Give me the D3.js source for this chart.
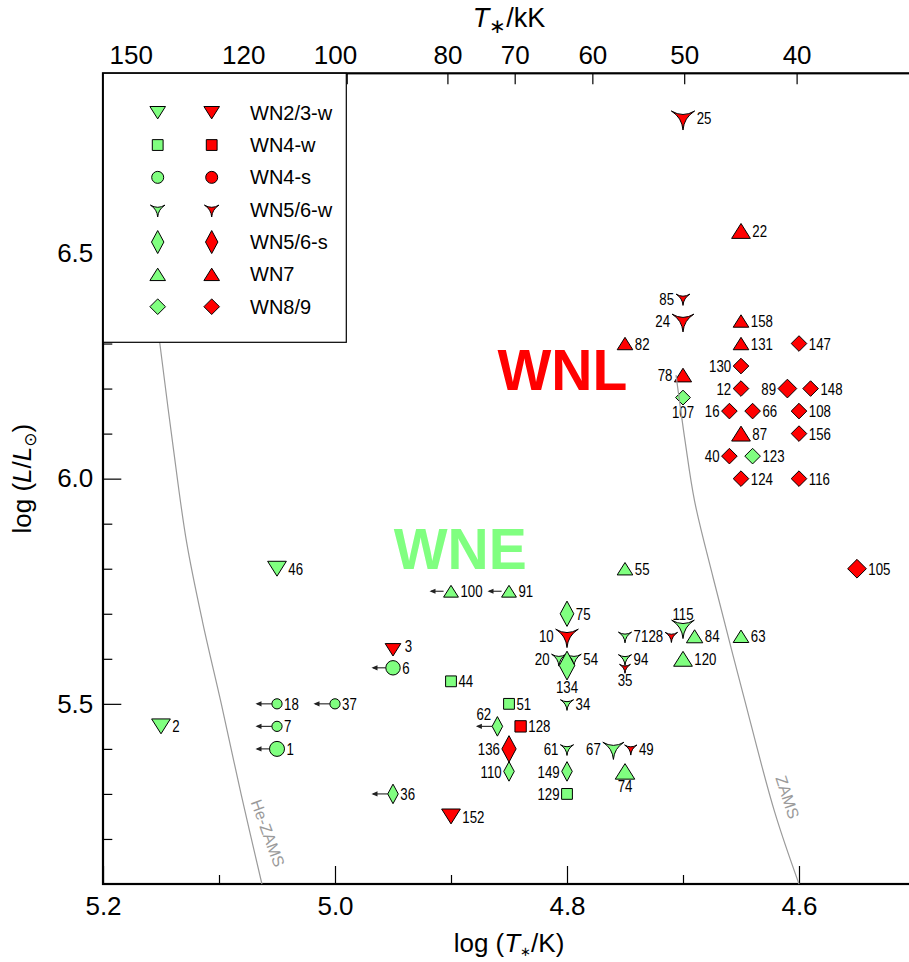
<!DOCTYPE html>
<html>
<head>
<meta charset="utf-8">
<script src="https://cdn.jsdelivr.net/npm/d3@7/dist/d3.min.js"></script>
<style>
  body { margin: 0; background: #fff; }
  svg { display: block; font-family: "Liberation Sans", Arial, sans-serif; }
  .lbl { font-family: "Liberation Sans", Arial, sans-serif; font-size: 17px; }
  .axis text { font-family: "Liberation Sans", Arial, sans-serif; font-size: 26px; fill: #000; }
  .axis line { stroke: #000; stroke-width: 1.2; }
</style>
</head>
<body>
<svg id="chart" width="909" height="962"></svg>
<script>
// ---- data ----
const starIds   = [25, 22, 85, 24, 158, 131, 147, 82, 130, 78, 12, 89, 148, 107, 16, 66, 108, 87, 156, 40, 123, 124, 116, 105,
                   46, 55, 100, 91, 75, 10, 71, 115, 28, 84, 63, 3, 20, 54, 134, 94, 35, 120, 6, 44, 18, 37, 51, 34, 2, 7,
                   62, 128, 1, 136, 61, 67, 49, 110, 149, 74, 36, 129, 152];
const logT      = [4.70, 4.65, 4.70, 4.70, 4.65, 4.65, 4.60, 4.75, 4.65, 4.70, 4.65, 4.61, 4.59, 4.70, 4.66, 4.64, 4.60, 4.65, 4.60, 4.66, 4.64, 4.65, 4.60, 4.55,
                   5.05, 4.75, 4.90, 4.85, 4.80, 4.80, 4.75, 4.70, 4.71, 4.69, 4.65, 4.95, 4.807, 4.794, 4.80, 4.75, 4.75, 4.70, 4.95, 4.90, 5.05, 5.00, 4.85, 4.80, 5.15, 5.05,
                   4.86, 4.84, 5.05, 4.85, 4.80, 4.76, 4.745, 4.85, 4.80, 4.75, 4.95, 4.80, 4.90];
const logL      = [6.80, 6.55, 6.40, 6.35, 6.35, 6.30, 6.30, 6.30, 6.25, 6.23, 6.20, 6.20, 6.20, 6.18, 6.15, 6.15, 6.15, 6.10, 6.10, 6.05, 6.05, 6.00, 6.00, 5.80,
                   5.80, 5.80, 5.75, 5.75, 5.70, 5.65, 5.65, 5.67, 5.65, 5.65, 5.65, 5.62, 5.60, 5.60, 5.585, 5.60, 5.58, 5.60, 5.58, 5.55, 5.50, 5.50, 5.50, 5.50, 5.45, 5.45,
                   5.45, 5.45, 5.40, 5.40, 5.40, 5.40, 5.40, 5.35, 5.35, 5.35, 5.30, 5.30, 5.25];
const subtype   = ['WN5/6-w', 'WN7', 'WN5/6-w', 'WN5/6-w', 'WN7', 'WN7', 'WN8/9', 'WN7', 'WN8/9', 'WN7', 'WN8/9', 'WN8/9', 'WN8/9', 'WN8/9', 'WN8/9', 'WN8/9', 'WN8/9', 'WN7', 'WN8/9', 'WN8/9', 'WN8/9', 'WN8/9', 'WN8/9', 'WN8/9',
                   'WN2/3-w', 'WN7', 'WN7', 'WN7', 'WN5/6-s', 'WN5/6-w', 'WN5/6-w', 'WN5/6-w', 'WN5/6-w', 'WN7', 'WN7', 'WN2/3-w', 'WN5/6-w', 'WN5/6-w', 'WN5/6-s', 'WN5/6-w', 'WN5/6-w', 'WN7', 'WN4-s', 'WN4-w', 'WN4-s', 'WN4-s', 'WN4-w', 'WN5/6-w', 'WN2/3-w', 'WN4-s',
                   'WN5/6-s', 'WN4-w', 'WN4-s', 'WN5/6-s', 'WN5/6-w', 'WN5/6-w', 'WN5/6-w', 'WN5/6-s', 'WN5/6-s', 'WN7', 'WN5/6-s', 'WN4-w', 'WN2/3-w'];
const group     = ['L', 'L', 'L', 'L', 'L', 'L', 'L', 'L', 'L', 'L', 'L', 'L', 'L', 'E', 'L', 'L', 'L', 'L', 'L', 'L', 'E', 'L', 'L', 'L',
                   'E', 'E', 'E', 'E', 'E', 'L', 'E', 'E', 'L', 'E', 'E', 'L', 'E', 'E', 'E', 'E', 'L', 'E', 'E', 'E', 'E', 'E', 'E', 'E', 'E', 'E',
                   'E', 'L', 'E', 'L', 'E', 'E', 'L', 'E', 'E', 'E', 'E', 'E', 'L'];
const relSize   = [1.6, 1.2, 0.95, 1.5, 1.0, 1.0, 1.0, 1.0, 1.0, 1.1, 1.0, 1.2, 1.0, 0.95, 1.0, 1.0, 1.0, 1.2, 1.0, 1.0, 1.0, 1.0, 1.0, 1.2,
                   1.2, 1.0, 0.95, 0.95, 1.1, 1.55, 0.9, 1.55, 0.85, 1.05, 1.0, 1.0, 1.0, 1.0, 1.25, 0.9, 0.75, 1.2, 1.2, 1.0, 0.85, 0.85, 1.0, 0.9, 1.2, 0.85,
                   0.85, 1.05, 1.25, 1.15, 0.9, 1.45, 0.85, 0.85, 0.85, 1.25, 0.85, 1.0, 1.2];
const labelSide = ['r', 'r', 'l', 'l', 'r', 'r', 'r', 'r', 'l', 'l', 'l', 'l', 'r', 'b', 'l', 'r', 'r', 'r', 'r', 'l', 'r', 'r', 'r', 'r',
                   'r', 'r', 'r', 'r', 'r', 'l', 'r', 't', 'l', 'r', 'r', 'tr', 'l', 'r', 'b', 'r', 'b', 'r', 'r', 'r', 'r', 'r', 'r', 'r', 'r', 'r',
                   'tl', 'r', 'r', 'l', 'l', 'l', 'r', 'l', 'l', 'b', 'r', 'l', 'r'];
// temperature only a lower limit (arrow to hotter side)
const tLimit    = [100, 91, 6, 18, 37, 7, 62, 1, 36];

const legendTypes = ['WN2/3-w', 'WN4-w', 'WN4-s', 'WN5/6-w', 'WN5/6-s', 'WN7', 'WN8/9'];

const bottomMajor = [5.2, 5.0, 4.8, 4.6];
const bottomMinor = [5.1, 4.9, 4.7, 4.5];
const leftMajor   = [5.5, 6.0, 6.5];
const leftMinor   = [5.2, 5.3, 5.4, 5.6, 5.7, 5.8, 5.9, 6.1, 6.2, 6.3, 6.4, 6.6, 6.7, 6.8];
const topKK       = [150, 120, 100, 80, 70, 60, 50, 40];
const topExtraKK  = [97.7];

// model tracks (logT, logL)
const heZamsT = [5.163, 5.151, 5.140, 5.128, 5.114, 5.098, 5.081, 5.063];
const heZamsL = [6.55, 6.30, 6.08, 5.86, 5.68, 5.50, 5.30, 5.10];
const zamsT   = [4.706, 4.698, 4.690, 4.674, 4.648, 4.621, 4.600];
const zamsL   = [6.23, 6.08, 5.95, 5.78, 5.52, 5.26, 5.10];

// ---- setup ----
const svg = d3.select('#chart');
const x = d3.scaleLinear().domain([5.2, 4.5]).range([103, 915]);
const y = d3.scaleLinear().domain([5.1, 6.9]).range([884, 73.3]);
const fill = d3.scaleOrdinal().domain(['E', 'L']).range(['#80ff80', '#ff0000']);
const NARROW = 0.78; // star labels use a condensed face in the original

// symbol geometry: half width, top extent, bottom extent (unit size)
const geom = {
  'WN2/3-w': {hw: 7.8, top: 6.2, bot: 6.2},
  'WN4-w':   {hw: 5.4, top: 5.4, bot: 5.4},
  'WN4-s':   {hw: 6.0, top: 6.0, bot: 6.0},
  'WN5/6-w': {hw: 7.3, top: 4.6, bot: 7.3},
  'WN5/6-s': {hw: 6.2, top: 11.5, bot: 11.5},
  'WN7':     {hw: 7.8, top: 6.2, bot: 6.2},
  'WN8/9':   {hw: 7.8, top: 7.8, bot: 7.8}
};

function shapePath(type, s){
  const p = d3.path();
  switch(type){
    case 'WN2/3-w':
      p.moveTo(-7.8*s, -6.2*s); p.lineTo(7.8*s, -6.2*s); p.lineTo(0, 6.2*s); p.closePath(); break;
    case 'WN7':
      p.moveTo(0, -6.2*s); p.lineTo(7.8*s, 6.2*s); p.lineTo(-7.8*s, 6.2*s); p.closePath(); break;
    case 'WN4-w':
      p.rect(-5.4*s, -5.4*s, 10.8*s, 10.8*s); break;
    case 'WN4-s':
      p.moveTo(6*s, 0); p.arc(0, 0, 6*s, 0, 2*Math.PI); p.closePath(); break;
    case 'WN5/6-w':
      p.moveTo(-7.3*s, -4.6*s);
      p.quadraticCurveTo(0, -0.2*s, 7.3*s, -4.6*s);
      p.quadraticCurveTo(0.6*s, -0.4*s, 0, 7.3*s);
      p.quadraticCurveTo(-0.6*s, -0.4*s, -7.3*s, -4.6*s);
      p.closePath(); break;
    case 'WN5/6-s':
      p.moveTo(0, -11.5*s); p.lineTo(6.2*s, 0); p.lineTo(0, 11.5*s); p.lineTo(-6.2*s, 0); p.closePath(); break;
    case 'WN8/9':
      p.moveTo(0, -7.8*s); p.lineTo(7.8*s, 0); p.lineTo(0, 7.8*s); p.lineTo(-7.8*s, 0); p.closePath(); break;
  }
  return p.toString();
}

const stars = starIds.map((id, i) => ({
  id: id, t: logT[i], l: logL[i], type: subtype[i], grp: group[i], s: relSize[i], side: labelSide[i],
  lim: tLimit.includes(id)
}));

// ---- axes ----
svg.append('g').attr('class', 'axis').attr('transform', 'translate(0,884)')
  .call(d3.axisBottom(x).tickValues(bottomMajor).tickSize(-18).tickPadding(13).tickFormat(d3.format('.1f')));
svg.append('g').attr('class', 'axis').attr('transform', 'translate(0,884)')
  .call(d3.axisBottom(x).tickValues(bottomMinor).tickSize(-9).tickFormat(''));
svg.append('g').attr('class', 'axis').attr('transform', 'translate(103.3,0)')
  .call(d3.axisLeft(y).tickValues(leftMajor).tickSize(-18).tickPadding(10).tickFormat(d3.format('.1f')));
svg.append('g').attr('class', 'axis').attr('transform', 'translate(103.3,0)')
  .call(d3.axisLeft(y).tickValues(leftMinor).tickSize(-9).tickFormat(''));
svg.append('g').attr('class', 'axis').attr('transform', 'translate(0,73.3)')
  .call(d3.axisTop(x).tickValues(topKK.map(v => Math.log10(v*1000))).tickSize(-11).tickPadding(9)
    .tickFormat((v, i) => topKK[i]));
svg.append('g').attr('class', 'axis').attr('transform', 'translate(0,73.3)')
  .call(d3.axisTop(x).tickValues(topExtraKK.map(v => Math.log10(v*1000))).tickSize(-11).tickFormat(''));
svg.selectAll('.axis .domain').remove();

// frame
svg.append('rect').attr('x', x(5.2)).attr('y', y(6.9))
  .attr('width', x(4.5) - x(5.2)).attr('height', y(5.1) - y(6.9))
  .attr('fill', 'none').attr('stroke', '#000').attr('stroke-width', 2.2);

// axis titles
const bt = svg.append('text').attr('x', (x(5.2) + x(4.5))/2).attr('y', 952)
  .attr('text-anchor', 'middle').attr('font-size', 26);
bt.append('tspan').text('log (');
bt.append('tspan').attr('font-style', 'italic').text('T');
bt.append('tspan').attr('font-size', 13).attr('dy', 4).text('\u2217');
bt.append('tspan').attr('dy', -4).text('/K)');

const tt = svg.append('text').attr('x', (x(5.2) + x(4.5))/2).attr('y', 27)
  .attr('text-anchor', 'middle').attr('font-size', 27);
tt.append('tspan').attr('font-style', 'italic').text('T');
tt.append('tspan').attr('font-size', 20).attr('dy', 6).text('\u2217');
tt.append('tspan').attr('dy', -6).text('/kK');

const lt = svg.append('text').attr('transform', 'translate(31,' + ((y(5.1) + y(6.9))/2) + ') rotate(-90)')
  .attr('text-anchor', 'middle').attr('font-size', 26);
lt.append('tspan').text('log (');
lt.append('tspan').attr('font-style', 'italic').text('L');
lt.append('tspan').text('/');
lt.append('tspan').attr('font-style', 'italic').text('L');
lt.append('tspan').attr('font-size', 17).attr('dy', 5).attr('font-family', 'DejaVu Sans').text('\u2299');
lt.append('tspan').attr('dy', -5).text(')');

// region labels
svg.append('text').attr('x', x(4.804)).attr('y', y(6.197)).attr('text-anchor', 'middle')
  .attr('font-size', 57).attr('font-weight', 'bold').attr('fill', '#ff0000').text('WNL');
svg.append('text').attr('x', x(4.892)).attr('y', y(5.80)).attr('text-anchor', 'middle')
  .attr('font-size', 57).attr('font-weight', 'bold').attr('fill', '#80ff80').text('WNE');

// ---- stars ----
const g = svg.append('g');
const lims = stars.filter(d => d.lim);
g.selectAll('line.arr').data(lims).enter().append('line')
  .attr('x1', d => x(d.t) - geom[d.type].hw*d.s).attr('x2', d => x(d.t) - 20)
  .attr('y1', d => y(d.l)).attr('y2', d => y(d.l))
  .attr('stroke', '#222').attr('stroke-width', 1.1);
g.selectAll('path.head').data(lims).enter().append('path')
  .attr('d', d => {
    const tx = x(d.t) - 21.5, ty = y(d.l);
    return `M${tx},${ty}L${tx + 6},${ty - 2.6}L${tx + 6},${ty + 2.6}Z`;
  })
  .attr('fill', '#222');

g.selectAll('path.star').data(stars).enter().append('path')
  .attr('transform', d => `translate(${x(d.t)},${y(d.l)})`)
  .attr('d', d => shapePath(d.type, d.s))
  .attr('fill', d => fill(d.grp))
  .attr('stroke', '#000').attr('stroke-width', 1).attr('stroke-linejoin', 'miter');

function labelPos(d){
  const gm = geom[d.type], cx = x(d.t), cy = y(d.l);
  switch(d.side){
    case 'r':  return [cx + gm.hw*d.s + 2, cy];
    case 'l':  return [cx - gm.hw*d.s - 2, cy];
    case 'tl': return [cx - gm.hw*d.s - 1, cy - 12];
    case 'tr': return [cx + gm.hw*d.s + 4, cy - 4];
    case 'b':  return [cx, cy + gm.bot*d.s + 7];
    case 't':  return [cx, cy - gm.top*d.s - 6];
  }
}
g.selectAll('text.lbl').data(stars).enter().append('text').attr('class', 'lbl')
  .attr('dominant-baseline', 'central')
  .attr('transform', d => {
    const [lx, ly] = labelPos(d);
    return `translate(${lx},${ly}) scale(${NARROW},1)`;
  })
  .attr('text-anchor', d => (d.side == 'r' || d.side == 'tr') ? 'start' : (d.side == 'l' || d.side == 'tl') ? 'end' : 'middle')
  .text(d => d.id);

// ---- model tracks ----
const track = d3.line().curve(d3.curveCatmullRom).x(d => x(d[0])).y(d => y(d[1]));
svg.append('path').attr('d', track(d3.zip(heZamsT, heZamsL)))
  .attr('fill', 'none').attr('stroke', '#9a9a9a').attr('stroke-width', 1.2);
svg.append('path').attr('d', track(d3.zip(zamsT, zamsL)))
  .attr('fill', 'none').attr('stroke', '#9a9a9a').attr('stroke-width', 1.2);
svg.append('text').attr('transform', `translate(${x(5.058)},${y(5.213)}) rotate(70)`)
  .attr('text-anchor', 'middle').attr('dominant-baseline', 'central')
  .attr('font-size', 16).attr('fill', '#9a9a9a').text('He-ZAMS');
svg.append('text').attr('transform', `translate(${x(4.610)},${y(5.293)}) rotate(72)`)
  .attr('text-anchor', 'middle').attr('dominant-baseline', 'central')
  .attr('font-size', 16).attr('fill', '#9a9a9a').text('ZAMS');

// ---- legend ----
const leg = svg.append('g');
leg.append('rect').attr('x', 103.3).attr('y', 73.3).attr('width', 243).attr('height', 269)
  .attr('fill', '#fff').attr('stroke', '#000').attr('stroke-width', 1.2);
const rowY = d3.scalePoint().domain(legendTypes).range([112.7, 306.7]);
legendTypes.forEach(tp => {
  ['E', 'L'].forEach((grp, j) => {
    leg.append('path').attr('transform', `translate(${j ? 211.7 : 157.7},${rowY(tp)})`)
      .attr('d', shapePath(tp, 1)).attr('fill', fill(grp))
      .attr('stroke', '#000').attr('stroke-width', 1);
  });
  leg.append('text').attr('x', 250).attr('y', rowY(tp)).attr('dominant-baseline', 'central')
    .attr('font-size', 20).text(tp);
});
</script>
</body>
</html>
